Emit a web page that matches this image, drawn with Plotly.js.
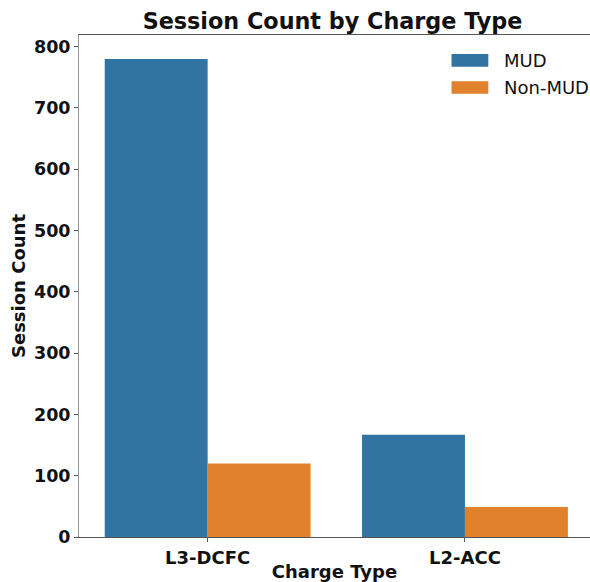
<!DOCTYPE html>
<html>
<head>
<meta charset="utf-8">
<script src="https://cdn.plot.ly/plotly-3.0.1.min.js"></script>
<style>html,body{margin:0;padding:0;background:#fff;}#chart{width:590px;height:582px;}</style>
</head>
<body>
<div id="chart"></div>
<script>
const categories = ["L3-DCFC", "L2-ACC"];
const mudValues = [780, 167];
const nonMudValues = [120, 49];
const seriesNames = ["MUD", "Non-MUD"];
const seriesColors = ["#3274a1", "#e1812c"];
const yTicks = [0, 100, 200, 300, 400, 500, 600, 700, 800];

const font = "DejaVu Sans, Arial, sans-serif";
const traces = [mudValues, nonMudValues].map((vals, i) => ({
  type: "bar",
  x: categories,
  y: vals,
  name: seriesNames[i],
  marker: {color: seriesColors[i], line: {width: 0}},
  showlegend: false,
  hoverinfo: "x+y+name"
}));

// custom legend (wide patches like the reference)
const legendShapes = [];
const legendAnnots = [];
const legY = [0.9495, 0.8955];
seriesNames.forEach((n, i) => {
  legendShapes.push({type: "rect", xref: "paper", yref: "paper",
    x0: 0.729, x1: 0.801, y0: legY[i] - 0.0125, y1: legY[i] + 0.0125,
    fillcolor: seriesColors[i], line: {width: 0}});
  legendAnnots.push({xref: "paper", yref: "paper", x: 0.828, y: legY[i],
    xanchor: "left", yanchor: "middle", showarrow: false, text: n,
    font: {family: font, size: 18, color: "#111"}});
});

const layout = {
  width: 590, height: 582,
  margin: {l: 79, r: 0, t: 35, b: 45, pad: 0},
  paper_bgcolor: "#fff", plot_bgcolor: "#fff",
  barmode: "group", bargap: 0.2, bargroupgap: 0,
  font: {family: font, color: "#111"},
  title: {text: "<b>Session Count by Charge Type</b>", font: {family: font, size: 22.3, color: "#111"},
    x: 332.5 / 590, xanchor: "center", xref: "container", y: 1 - 21 / 582, yref: "container", yanchor: "middle"},
  xaxis: {
    type: "category", range: [-0.5, 1.486],
    showline: true, linecolor: "#555", linewidth: 1, mirror: true,
    ticks: "outside", ticklen: 4, tickcolor: "#555",
    tickfont: {family: font, size: 18, color: "#111", weight: "bold"},
    showgrid: false, zeroline: false,
    title: {text: "<b>Charge Type</b>", font: {family: font, size: 18, color: "#111"}, standoff: 4}
  },
  yaxis: {
    range: [0, 819], tickvals: yTicks,
    showline: true, linecolor: "#999", linewidth: 1,
    ticks: "outside", ticklen: 4, tickcolor: "#555",
    tickfont: {family: font, size: 17.5, color: "#111", weight: "bold"},
    showgrid: false, zeroline: false,
    title: {text: "<b>Session Count</b>", font: {family: font, size: 18, color: "#111"}, standoff: 3}
  },
  shapes: legendShapes,
  annotations: legendAnnots
};

Plotly.newPlot("chart", traces, layout, {displayModeBar: false, staticPlot: true});
</script>
</body>
</html>
